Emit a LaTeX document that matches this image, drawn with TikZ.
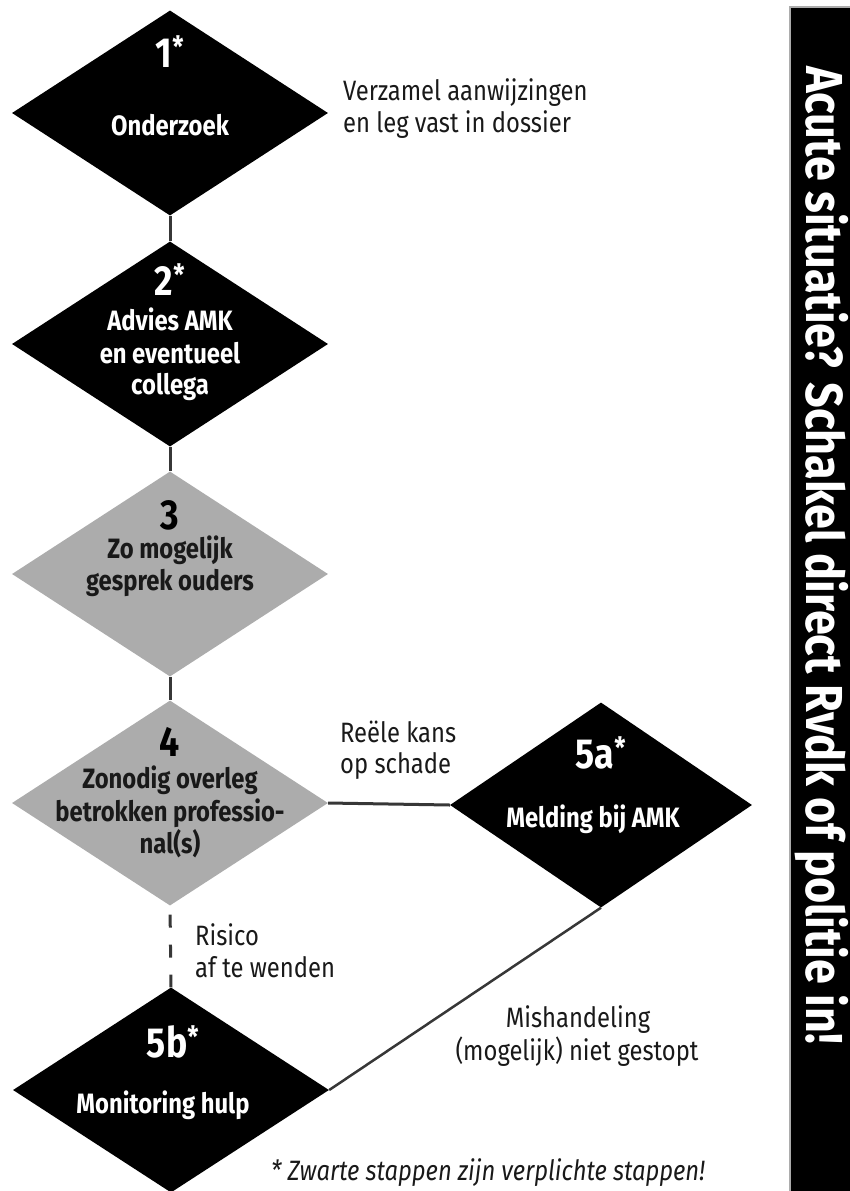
\documentclass[tikz,border=0pt]{standalone}
\usepackage{fontspec}
\setmainfont{Fira Sans}[FakeStretch=0.85]
\newfontfamily\barfont{Fira Sans}[FakeStretch=0.865]
\usetikzlibrary{shapes.geometric}
\definecolor{stepgray}{RGB}{172,172,172}
\definecolor{linegray}{RGB}{55,55,55}
\definecolor{textdark}{RGB}{25,25,25}
\begin{document}
\begin{tikzpicture}[x=1pt,y=-1pt,
  blackstep/.style={diamond, fill=black, inner sep=0pt, minimum width=316pt, minimum height=205pt},
  graystep/.style={blackstep, fill=stepgray},
  conn/.style={draw=linegray, line width=3pt},
  wnum/.style={text=white, font=\fontsize{42}{42}\selectfont\bfseries, anchor=base, inner sep=0pt},
  bnum/.style={wnum, text=black},
  wtxt/.style={text=white, font=\fontsize{28}{33}\selectfont\bfseries, anchor=base, inner sep=0pt},
  btxt/.style={wtxt, text=textdark},
  lbl/.style={font=\fontsize{28}{32}\selectfont, anchor=base west, inner sep=0pt, text=textdark},
]
\useasboundingbox (0,0) rectangle (850,1191);

% steps
\node[blackstep] (d1) at (170,113) {};
\node[blackstep] (d2) at (170,344) {};
\node[graystep] (d3) at (170,574) {};
\node[graystep] (d4) at (170,803) {};
\node[blackstep, minimum width=302pt] (d5a) at (601,805) {};
\node[blackstep] (d5b) at (171,1090) {};

% connectors
\draw[conn] (d1.south) -- (d2.north);
\draw[conn] (d2.south) -- (d3.north);
\draw[conn] (d3.south) -- (d4.north);
\draw[conn] (d4.east) -- (d5a.west);
\draw[conn, dash pattern=on 13pt off 17pt, dash phase=21pt] (d4.south) -- (d5b.north);
\draw[conn, line width=2.5pt] (d5b.east) -- (d5a.south);

% step texts
\node[wnum] (n1) at (170,67) {1\textsuperscript{*}};
\node[wtxt] (t1) at (170,135) {Onderzoek};
\node[wnum] (n2) at (170,295) {2\textsuperscript{*}};
\node[wtxt] (t2a) at (170,330) {Advies AMK};
\node[wtxt] (t2b) at (170,363) {en eventueel};
\node[wtxt] (t2c) at (170,394) {collega};
\node[bnum] (n3) at (170,529) {3};
\node[btxt] (t3a) at (170,558) {Zo mogelijk};
\node[btxt] (t3b) at (170,590) {gesprek ouders};
\node[bnum] (n4) at (170,756) {4};
\node[btxt] (t4a) at (170,788) {Zonodig overleg};
\node[btxt] (t4b) at (170,821) {betrokken professio-};
\node[btxt] (t4c) at (170,853) {nal(s)};
\node[wnum] (n5a) at (601,768) {5a\textsuperscript{*}};
\node[wtxt] (t5a) at (593,827) {Melding bij AMK};
\node[wnum] (n5b) at (173,1057) {5b\textsuperscript{*}};
\node[wtxt] (t5b) at (163,1113) {Monitoring hulp};

% labels
\node[lbl] (l1a) at (343,100) {Verzamel aanwijzingen};
\node[lbl] (l1b) at (343,132) {en leg vast in dossier};
\node[lbl] (l4a) at (340,742) {Reële kans};
\node[lbl] (l4b) at (340,773) {op schade};
\node[lbl] (l5a) at (195,945) {Risico};
\node[lbl] (l5b) at (195,977) {af te wenden};
\node[lbl, anchor=base] (l6a) at (578,1027) {Mishandeling};
\node[lbl, anchor=base] (l6b) at (577,1060) {(mogelijk) niet gestopt};
\node[lbl, font=\fontsize{28}{32}\selectfont\itshape] (foot) at (271,1180) {* Zwarte stappen zijn verplichte stappen!};

% side bar
\node[fill=black, draw=stepgray, line width=1.5pt, inner sep=0pt, minimum width=62pt, minimum height=1185pt] (bar) at (821,599.5) {};
\node[rotate=-90, anchor=base west, text=white, inner sep=0pt, font=\barfont\bfseries\fontsize{52}{52}\selectfont] (bartxt) at (806,66) {Acute situatie? Schakel direct Rvdk of politie in!};
\end{tikzpicture}
\end{document}
